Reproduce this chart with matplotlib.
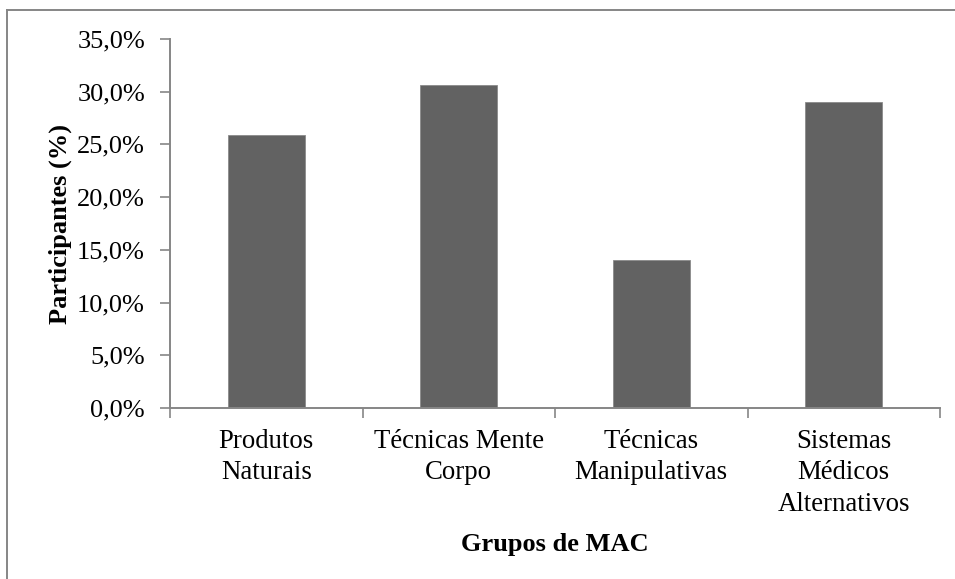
import matplotlib
matplotlib.use("Agg")
import matplotlib.pyplot as plt
from matplotlib.ticker import FuncFormatter, MultipleLocator, FixedLocator, NullFormatter
from matplotlib.lines import Line2D
from matplotlib.transforms import offset_copy

categories = ["Produtos\nNaturais", "Técnicas Mente\nCorpo", "Técnicas\nManipulativas",
              "Sistemas\nMédicos\nAlternativos"]
values = [25.9, 30.6, 14.0, 29.0]
y_label = "Participantes (%)"
x_label = "Grupos de MAC"

plt.rcParams['font.family'] = ['Liberation Serif', 'DejaVu Serif']

W, H = 955, 579
fig = plt.figure(figsize=(W / 100, H / 100), dpi=100)
ax = fig.add_axes([170 / W, 1 - 408 / H, (940 - 170) / W, (408 - 39) / H])

x = list(range(len(categories)))
ax.bar(x, values, width=0.4, color='#626262', edgecolor='#8a8a8a', linewidth=0.6)

ax.set_xlim(-0.5, len(categories) - 0.5)
ax.set_ylim(0, 35)
ax.yaxis.set_major_locator(MultipleLocator(5))
ax.yaxis.set_major_formatter(FuncFormatter(lambda v, p: f"{v:.1f}%".replace('.', ',')))

# category boundary ticks, labels drawn as text under each category
ax.xaxis.set_major_locator(FixedLocator([i - 0.5 for i in range(len(categories) + 1)]))
ax.xaxis.set_major_formatter(NullFormatter())
ax.tick_params(axis='x', which='major', length=7, width=1.2, color='#868686', direction='out')
ax.tick_params(axis='y', length=7, width=1.2, color='#868686', direction='out', labelsize=19, pad=11)

lab_tr = offset_copy(ax.get_xaxis_transform(), fig=fig, x=0, y=-21, units='dots')
for xi, name in zip(x, categories):
    ax.text(xi, 0, name, transform=lab_tr, ha='center', va='top', fontsize=19.3,
            linespacing=1.33, clip_on=False)

for s in ['top', 'right']:
    ax.spines[s].set_visible(False)
for s in ['left', 'bottom']:
    ax.spines[s].set_color('#868686')
    ax.spines[s].set_linewidth(1.4)

ax.set_ylabel(y_label, fontsize=19, fontweight='bold', labelpad=4)
fig.text(555 / W, 1 - 545 / H, x_label, fontsize=19, fontweight='bold', ha='center', va='center')

# outer border (left and top)
fig.add_artist(Line2D([6.5 / W, 6.5 / W], [0, 1 - 10 / H], transform=fig.transFigure,
                      color='#868686', linewidth=1.4))
fig.add_artist(Line2D([6.5 / W, 1], [1 - 10 / H, 1 - 10 / H], transform=fig.transFigure,
                      color='#868686', linewidth=1.4))

fig.savefig("out.png", dpi=100)
